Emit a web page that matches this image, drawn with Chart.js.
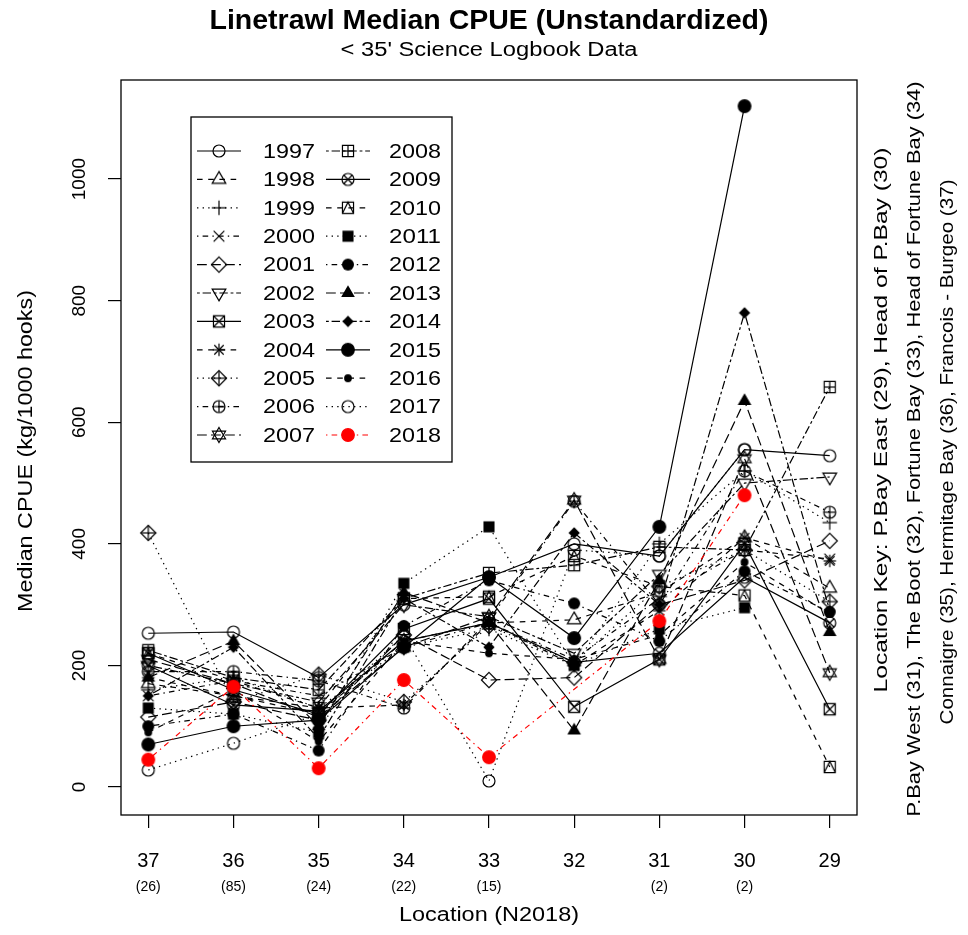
<!DOCTYPE html>
<html><head><meta charset="utf-8">
<script src="https://cdn.jsdelivr.net/npm/chart.js@4.4.1/dist/chart.umd.min.js"></script>
<style>html,body{margin:0;padding:0;background:#fff}#wrap{width:968px;height:935px;position:relative}</style>
</head><body><div id="wrap"><canvas id="c" width="968" height="935"></canvas></div>
<script>
// ---------------- DATA ----------------
const locations = ['37','36','35','34','33','32','31','30','29'];
const sampleCounts = ['(26)','(85)','(24)','(22)','(15)','','(2)','(2)',''];
const yTickValues = [0,200,400,600,800,1000];
const years = ['1997','1998','1999','2000','2001','2002','2003','2004','2005','2006','2007',
               '2008','2009','2010','2011','2012','2013','2014','2015','2016','2017','2018'];
const cpue1997 = [253,255,180,300,345,400,380,555,545];
const cpue1998 = [170,150,120,240,270,275,320,410,327];
const cpue1999 = [160,180,130,230,260,200,400,520,435];
const cpue2000 = [150,175,150,230,270,210,310,390,375];
const cpue2001 = [115,140,110,250,176,180,300,340,405];
const cpue2002 = [200,170,140,300,280,220,350,500,510];
const cpue2003 = [220,160,120,260,310,132,210,400,128];
const cpue2004 = [180,150,130,135,270,200,290,410,372];
const cpue2005 = [418,140,185,140,265,205,330,390,305];
const cpue2006 = [190,190,175,130,275,470,300,520,452];
const cpue2007 = [210,170,115,230,280,472,210,540,188];
const cpue2008 = [225,180,160,310,352,365,395,390,658];
const cpue2009 = [200,135,125,240,270,205,220,345,270];
const cpue2010 = [220,175,130,310,313,380,330,315,33];
const cpue2011 = [130,120,90,335,428,200,260,295,null];
const cpue2012 = [100,120,60,265,340,302,240,355,288];
const cpue2013 = [180,240,100,320,270,93,340,635,255];
const cpue2014 = [150,230,80,310,230,418,300,780,290];
const cpue2015 = [70,100,110,230,345,245,428,1120,null];
const cpue2016 = [90,160,75,240,220,210,250,370,285];
const cpue2017 = [28,72,120,250,10,390,380,555,null];
const cpue2018 = [45,165,31,176,49,null,273,480,null];
const seriesValues = [cpue1997,cpue1998,cpue1999,cpue2000,cpue2001,cpue2002,cpue2003,cpue2004,
  cpue2005,cpue2006,cpue2007,cpue2008,cpue2009,cpue2010,cpue2011,cpue2012,cpue2013,cpue2014,
  cpue2015,cpue2016,cpue2017,cpue2018];

// ---------------- STYLE ----------------
const FONT = "'Liberation Sans', Arial, sans-serif";
const pchCodes = [1,2,3,4,5,6,7,8,9,10,11,12,13,14,15,16,17,18,19,20,21,19];
const ltyIndex = years.map((_,i)=> i % 6);
const K = 1.4;
const dashes = [[], [4*K,4*K], [1*K,3*K], [1*K,3*K,4*K,3*K], [7*K,3*K], [2*K,2*K,6*K,2*K]];
const colors = years.map(y => y === '2018' ? '#ff0000' : '#000000');

function makeSym(pch, color){
  const S = 20, cv = document.createElement('canvas');
  cv.width = S; cv.height = S;
  const g = cv.getContext('2d');
  g.translate(S/2, S/2);
  g.strokeStyle = color; g.fillStyle = color; g.lineWidth = 1.2;
  const r = 6.3;
  const circ = rr => { g.beginPath(); g.arc(0,0,rr,0,Math.PI*2); };
  const sq = h => { g.beginPath(); g.rect(-h,-h,2*h,2*h); };
  const tri = (dir, R0) => { g.beginPath(); g.moveTo(0,-dir*R0);
    g.lineTo(R0*0.866, dir*R0*0.5); g.lineTo(-R0*0.866, dir*R0*0.5); g.closePath(); };
  const dia = rr => { g.beginPath(); g.moveTo(0,-rr); g.lineTo(rr,0); g.lineTo(0,rr); g.lineTo(-rr,0); g.closePath(); };
  const line = (x1,y1,x2,y2) => { g.beginPath(); g.moveTo(x1,y1); g.lineTo(x2,y2); g.stroke(); };
  const plus = a => { line(-a,0,a,0); line(0,-a,0,a); };
  const cross = a => { line(-a,-a,a,a); line(-a,a,a,-a); };
  const h = r*0.88;
  switch(pch){
    case 1: case 21: circ(r*0.95); g.stroke(); break;
    case 2: tri(1, r*1.25); g.stroke(); break;
    case 3: plus(r*1.15); break;
    case 4: cross(r*0.85); break;
    case 5: dia(r*1.2); g.stroke(); break;
    case 6: tri(-1, r*1.25); g.stroke(); break;
    case 7: sq(h); g.stroke(); cross(h); break;
    case 8: plus(r*1.0); cross(r*0.75); break;
    case 9: dia(r*1.2); g.stroke(); plus(r*1.2); break;
    case 10: circ(r*0.95); g.stroke(); plus(r*0.95); break;
    case 11: tri(1, r*1.2); g.stroke(); tri(-1, r*1.2); g.stroke(); break;
    case 12: sq(h); g.stroke(); plus(h); break;
    case 13: circ(r*0.95); g.stroke(); cross(r*0.67); break;
    case 14: sq(h); g.stroke(); g.beginPath(); g.moveTo(-h,h); g.lineTo(0,-h); g.lineTo(h,h); g.stroke(); break;
    case 15: sq(h); g.fill(); break;
    case 16: circ(r*0.95); g.fill(); break;
    case 17: tri(1, r*1.25); g.fill(); break;
    case 18: dia(r*0.9); g.fill(); break;
    case 19: circ(r*1.0); g.fill(); g.stroke(); break;
    case 20: circ(r*0.62); g.fill(); break;
  }
  return cv;
}
const symbols = years.map((_,i)=> makeSym(pchCodes[i], colors[i]));

const datasets = years.map((yr,i)=>({
  label: yr,
  data: locations.map((_,j)=>({x:j, y: seriesValues[i][j]})),
  borderColor: colors[i],
  backgroundColor: colors[i],
  borderWidth: 1.2,
  borderDash: dashes[ltyIndex[i]],
  pointStyle: symbols[i],
  pointRadius: 5,
  pointHoverRadius: 5,
  spanGaps: true,
  tension: 0,
  fill: false,
  order: years.length - i
}));

// ---------------- PLUGINS ----------------
function fitText(ctx, txt, x, y, font, targetW, rotated){
  ctx.save();
  ctx.font = font;
  const w = ctx.measureText(txt).width;
  const sx = targetW ? targetW / w : 1;
  ctx.translate(x, y);
  if (rotated) ctx.rotate(-Math.PI/2);
  ctx.scale(sx, 1);
  ctx.textAlign = 'center'; ctx.textBaseline = 'middle'; ctx.fillStyle = '#000';
  ctx.fillText(txt, 0, 0);
  ctx.restore();
}

const decor = {
  id: 'decor',
  afterDatasetsDraw(chart){
    const ctx = chart.ctx, a = chart.chartArea;
    ctx.save();
    ctx.strokeStyle = '#000'; ctx.lineWidth = 1.3; ctx.setLineDash([]);
    ctx.strokeRect(a.left, a.top, a.right - a.left, a.bottom - a.top);
    // legend
    const lx = 191, ly = 117, lw = 261, lh = 345;
    ctx.fillStyle = '#fff'; ctx.fillRect(lx, ly, lw, lh);
    ctx.strokeRect(lx, ly, lw, lh);
    const rowH = 28.4, row0 = 151;
    years.forEach((yr,i)=>{
      const col = i < 11 ? 0 : 1, r = i % 11;
      const y = row0 + r*rowH;
      const x1 = col ? 326 : 197, x2 = col ? 370 : 241, tx = col ? 389 : 263;
      ctx.strokeStyle = colors[i]; ctx.lineWidth = 1.2; ctx.setLineDash(dashes[ltyIndex[i]]);
      ctx.beginPath(); ctx.moveTo(x1, y); ctx.lineTo(x2, y); ctx.stroke();
      ctx.setLineDash([]);
      const s = symbols[i];
      ctx.drawImage(s, (x1+x2)/2 - s.width/2, y - s.height/2);
      fitText(ctx, yr, tx + 26, y + 1, '21px ' + FONT, 52, false);
    });
    ctx.restore();
  },
  afterDraw(chart){
    const ctx = chart.ctx;
    fitText(ctx, 'Linetrawl Median CPUE (Unstandardized)', 489, 22, 'bold 27px ' + FONT, 559, false);
    fitText(ctx, "< 35' Science Logbook Data", 489, 50, '20px ' + FONT, 297, false);
    fitText(ctx, 'Location (N2018)', 489, 915, '20px ' + FONT, 180, false);
    fitText(ctx, 'Median CPUE (kg/1000 hooks)', 26, 451, '20px ' + FONT, 322, true);
    fitText(ctx, 'Location Key: P.Bay East (29), Head of P.Bay (30)', 882, 420, '19px ' + FONT, 545, true);
    fitText(ctx, 'P.Bay West (31), The Boot (32), Fortune Bay (33), Head of Fortune Bay (34)', 915, 449, '19px ' + FONT, 735, true);
    fitText(ctx, 'Connaigre (35), Hermitage Bay (36), Francois - Burgeo (37)', 948, 452, '19px ' + FONT, 545, true);
  }
};

Chart.defaults.font.family = FONT;
Chart.defaults.color = '#000';

new Chart(document.getElementById('c'), {
  type: 'line',
  data: { datasets },
  options: {
    responsive: false, animation: false, devicePixelRatio: 1,
    layout: { padding: { top: 80, right: 111, left: 0, bottom: 0 } },
    plugins: { legend: { display: false }, tooltip: { enabled: false }, title: { display: false } },
    events: [],
    scales: {
      x: {
        type: 'linear', position: 'bottom', weight: 0,
        min: -0.32, max: 8.32,
        afterBuildTicks: s => { s.ticks = locations.map((_,i)=>({value:i})); },
        afterFit: s => { s.height = 54; },
        ticks: { callback: v => locations[v], font: { size: 20 }, padding: 21, autoSkip: false, maxRotation: 0, minRotation: 0, color: '#000' },
        grid: { drawOnChartArea: false, drawTicks: true, tickLength: 13, color: '#000', lineWidth: 1.2 },
        border: { display: false }
      },
      xc: {
        type: 'linear', position: 'bottom', weight: 1,
        min: -0.32, max: 8.32,
        afterBuildTicks: s => { s.ticks = locations.map((_,i)=>({value:i})); },
        afterFit: s => { s.height = 66; },
        ticks: { callback: v => sampleCounts[v], font: { size: 14 }, padding: 2, autoSkip: false, maxRotation: 0, minRotation: 0, color: '#000' },
        grid: { display: false },
        border: { display: false }
      },
      y: {
        type: 'linear', position: 'left',
        min: -46, max: 1163,
        afterBuildTicks: s => { s.ticks = yTickValues.map(v=>({value:v})); },
        afterFit: s => { s.width = 121; },
        ticks: { callback: v => String(v), font: { size: 19 }, padding: 7, minRotation: 90, maxRotation: 90, crossAlign: 'center', color: '#000' },
        grid: { drawOnChartArea: false, drawTicks: true, tickLength: 13, color: '#000', lineWidth: 1.2 },
        border: { display: false }
      }
    }
  },
  plugins: [decor]
});
</script>
</body></html>
